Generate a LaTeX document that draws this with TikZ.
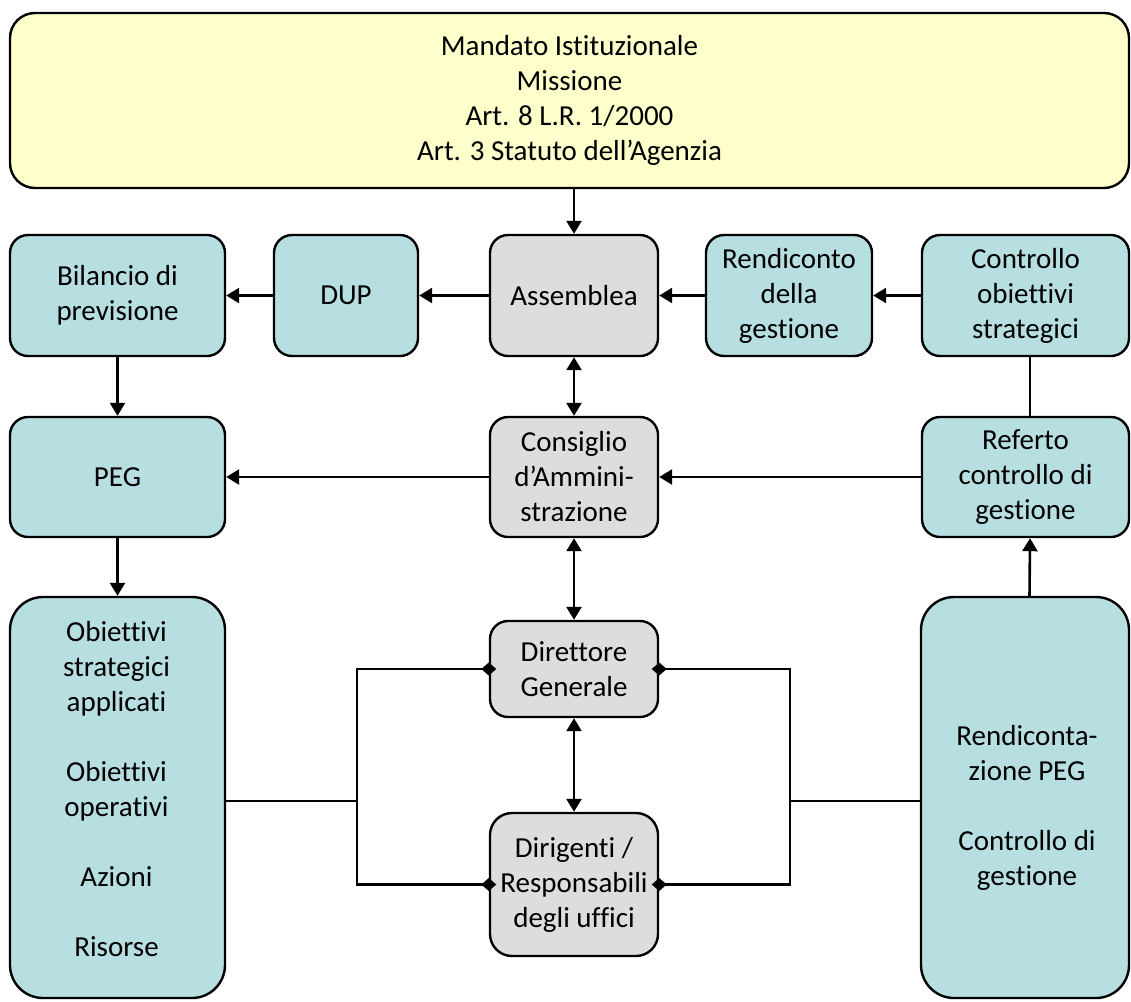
\documentclass[tikz,border=0pt]{standalone}
\usepackage{fontspec}
\setmainfont{Carlito}[Ligatures={NoCommon}]
\usetikzlibrary{arrows.meta}
\definecolor{tealfill}{HTML}{B7DFE2}
\definecolor{grayfill}{HTML}{DDDDDD}
\definecolor{yellowfill}{HTML}{FFFFCC}
\begin{document}
\begin{tikzpicture}[x=1pt,y=-1pt,
  box/.style={draw, line width=2.4pt, rounded corners=18pt, inner sep=0pt, align=center,
    font=\fontsize{29}{35}\selectfont},
  tealbox/.style={box, fill=tealfill},
  graybox/.style={box, fill=grayfill},
  txt/.style={inner sep=0pt, align=center, font=\fontsize{29}{35}\selectfont},
  conn/.style={line width=2.6pt},
  arr/.style={conn, -{Triangle[length=13pt,width=15pt]}},
  darr/.style={conn, {Triangle[length=13pt,width=15pt]}-{Triangle[length=13pt,width=15pt]}},
  ddiam/.style={conn, {Diamond[length=15pt,width=13pt]}-{Diamond[length=15pt,width=13pt]}}
]
\useasboundingbox (0,0) rectangle (1131,1001);

% boxes
\node[box, fill=yellowfill, rounded corners=25pt, minimum width=1119pt, minimum height=175pt] (top) at (569.5,100.5)
  {Mandato Istituzionale\\Missione\\Art. 8 L.R. 1/2000\\Art. 3 Statuto dell’Agenzia};

\node[tealbox, minimum width=215pt, minimum height=121pt] (bil) at (117.5,295.5) {Bilancio di\\previsione};
\node[tealbox, minimum width=144pt, minimum height=121pt] (dup) at (346,295.5) {DUP};
\node[graybox, minimum width=168pt, minimum height=121pt] (ass) at (574,295.5) {Assemblea};
\node[tealbox, minimum width=166pt, minimum height=121pt] (ren) at (789,295.5) {Rendiconto\\della\\gestione};
\node[tealbox, minimum width=207pt, minimum height=121pt] (con) at (1025.5,295.5) {Controllo\\obiettivi\\strategici};

\node[tealbox, minimum width=215pt, minimum height=120pt] (peg) at (117.5,477) {PEG};
\node[graybox, minimum width=168pt, minimum height=120pt] (cda) at (574,477) {Consiglio\\d’Ammini-\\strazione};
\node[tealbox, minimum width=207pt, minimum height=120pt] (ref) at (1025.5,477) {Referto\\controllo di\\gestione};

\node[tealbox, rounded corners=33pt, minimum width=215pt, minimum height=401pt] (obi) at (117.5,797.5) {};
\node[txt] (obit) at (116.5,789.5) {Obiettivi\\strategici\\applicati\\[35pt]Obiettivi\\operativi\\[35pt]Azioni\\[35pt]Risorse};
\node[graybox, minimum width=168pt, minimum height=96pt] (dg) at (574,669) {Direttore\\Generale};
\node[graybox, rounded corners=22pt, minimum width=168pt, minimum height=143pt] (dir) at (574,884.5) {Dirigenti /\\Responsabili\\degli uffici};
\node[tealbox, rounded corners=33pt, minimum width=208pt, minimum height=401pt] (rp) at (1025,797.5) {};
\node[txt] (rpt) at (1027,807.5) {Rendiconta-\\zione PEG\\[35pt]Controllo di\\gestione};

% connectors
\draw[arr] (ass.north |- top.south) -- (ass.north);
\draw[arr] (ass.west) -- (dup.east);
\draw[arr] (dup.west) -- (bil.east);
\draw[arr] (ren.west) -- (ass.east);
\draw[arr] (con.west) -- (ren.east);
\draw[conn] ([xshift=4.5pt]con.south) -- ([xshift=4.5pt]ref.north);
\draw[arr] (bil.south) -- (peg.north);
\draw[darr] (ass.south) -- (cda.north);
\draw[arr] (cda.west) -- (peg.east);
\draw[arr] (ref.west) -- (cda.east);
\draw[arr] (peg.south) -- (obi.north);
\draw[darr] (cda.south) -- (dg.north);
\draw[darr] (dg.south) -- (dir.north);
\draw[arr] ([xshift=4.5pt]rp.north) -- ([xshift=4.5pt]ref.south);

\coordinate (jl) at (357,801);
\coordinate (jr) at (790,801);
\draw[ddiam] ([xshift=7.5pt]dg.west) -| (jl) |- ([xshift=7.5pt]dir.west);
\draw[conn] (jl) -- (jl -| obi.east);
\draw[ddiam] ([xshift=-7.5pt]dg.east) -| (jr) |- ([xshift=-7.5pt]dir.east);
\draw[conn] (jr) -- (jr -| rp.west);
\end{tikzpicture}
\end{document}
